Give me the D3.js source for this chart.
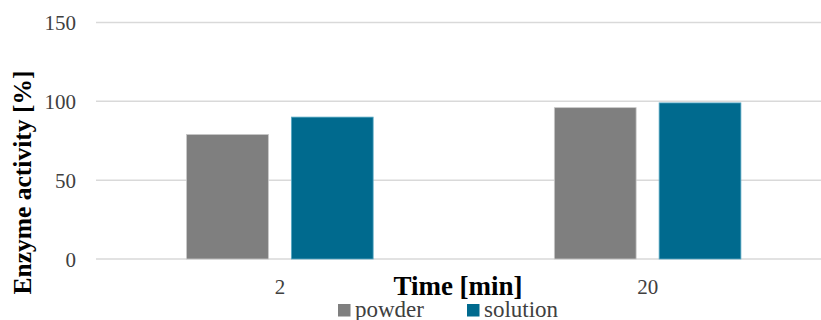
<!DOCTYPE html>
<html><head><meta charset="utf-8">
<script src="https://cdn.jsdelivr.net/npm/d3@7"></script>
<style>body{margin:0;background:#fff}svg{display:block}</style>
</head><body>
<svg id="c" width="821" height="320"></svg>
<script>
const categories = ["2", "20"];
const seriesNames = ["powder", "solution"];
const powder = [79, 96];
const solution = [90, 99];
const yTicks = [0, 50, 100, 150];
const colors = ["#7f7f7f", "#006a8e"];
const strokes = ["#c8c8c8", "#5aa9c4"];

const svg = d3.select("#c");
const font = "'Liberation Serif', 'Times New Roman', serif";
const y = d3.scaleLinear().domain([0, 150]).range([259, 22.5]);
const x0 = d3.scaleBand().domain(categories).range([96, 831.5]).paddingInner(0.49).paddingOuter(0.245);
const x1 = d3.scaleBand().domain(seriesNames).range([0, x0.bandwidth()]).paddingInner(0.21);
const data = [powder, solution];

// gridlines
svg.append("g").selectAll("line").data(yTicks).join("line")
  .attr("x1", 96).attr("x2", 821)
  .attr("y1", d => y(d)).attr("y2", d => y(d))
  .attr("stroke", "#d9d9d9").attr("stroke-width", 1.5);

// y axis tick labels
const yAxis = d3.axisLeft(y).tickValues(yTicks).tickSize(0).tickPadding(0);
const gy = svg.append("g").attr("transform", "translate(76,0)").call(yAxis);
gy.select(".domain").remove();
gy.selectAll("text").attr("font-family", font).attr("font-size", 21).attr("fill", "#404040").attr("dy", "0.34em");

// bars
categories.forEach((c, ci) => {
  seriesNames.forEach((s, si) => {
    svg.append("rect")
      .attr("x", x0(c) + x1(s) + 0.5)
      .attr("y", y(data[si][ci]))
      .attr("width", x1.bandwidth() - 1)
      .attr("height", y(0) - y(data[si][ci]))
      .attr("fill", colors[si])
      .attr("stroke", strokes[si]).attr("stroke-width", 0.8);
  });
});

// x tick labels
const xAxis = d3.axisBottom(x0).tickSize(0).tickPadding(0);
const gx = svg.append("g").attr("transform", "translate(0,294)").call(xAxis);
gx.select(".domain").remove();
gx.selectAll("text").attr("font-family", font).attr("font-size", 21).attr("fill", "#404040").attr("dy", "0");

// axis titles
svg.append("text").attr("x", 458).attr("y", 295).attr("text-anchor", "middle")
  .attr("font-family", font).attr("font-weight", "bold").attr("font-size", 27).attr("fill", "#000")
  .text("Time [min]");
svg.append("text").attr("transform", "translate(31,182.5) rotate(-90)").attr("text-anchor", "middle")
  .attr("font-family", font).attr("font-weight", "bold").attr("font-size", 25.5).attr("fill", "#000")
  .text("Enzyme activity [%]");

// legend
const legX = [338, 467];
seriesNames.forEach((s, i) => {
  svg.append("rect").attr("x", legX[i]).attr("y", 304).attr("width", 12.5).attr("height", 12.5).attr("fill", colors[i]);
  svg.append("text").attr("x", legX[i] + 17).attr("y", 316.5)
    .attr("font-family", font).attr("font-size", 23).attr("fill", "#404040").text(s);
});
</script>
</body></html>
